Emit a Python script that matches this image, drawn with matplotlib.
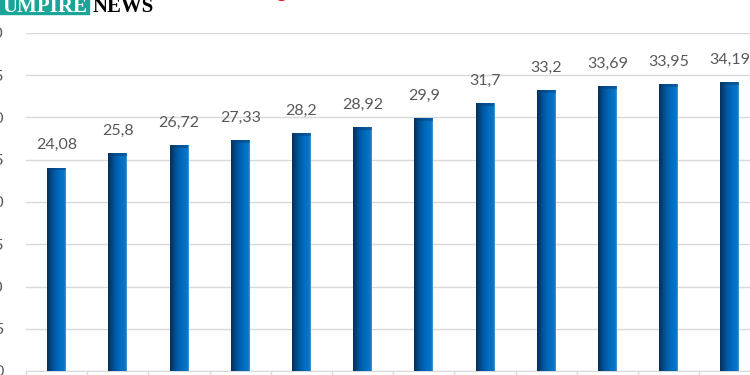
import matplotlib
matplotlib.use("Agg")
import matplotlib.pyplot as plt
import numpy as np
from matplotlib.colors import LinearSegmentedColormap
from matplotlib.patches import Rectangle

# values
values = [24.08, 25.8, 26.72, 27.33, 28.2, 28.92, 29.9, 31.7, 33.2, 33.69, 33.95, 34.19]
labels = ["24,08", "25,8", "26,72", "27,33", "28,2", "28,92", "29,9", "31,7", "33,2", "33,69", "33,95", "34,19"]
y_ticks = [0, 5, 10, 15, 20, 25, 30, 35, 40]

W, H = 750, 375
fig = plt.figure(figsize=(W / 100, H / 100), dpi=100)
# axes spill past the right edge like the cropped original
ax = fig.add_axes([26 / W, 4 / H, 12 * 61.2 / W, 338 / H])

x = np.arange(len(values))
bars = ax.bar(x, values, width=0.31, color="#0068b8", zorder=3)

# horizontal dark-to-bright gradient in every bar
cmap = LinearSegmentedColormap.from_list(
    "bar", [(0, "#062f58"), (0.35, "#0057a2"), (0.7, "#006fc2"), (0.92, "#0a74c6"), (1, "#4a9ad6")])
grad = np.linspace(0, 1, 64).reshape(1, -1)
for b in bars:
    x0, w, h = b.get_x(), b.get_width(), b.get_height()
    im = ax.imshow(grad, cmap=cmap, aspect="auto", extent=(x0, x0 + w, 0, h),
                   zorder=4, interpolation="bilinear")
    im.set_clip_path(b)
    # slightly darker cap
    ax.add_patch(Rectangle((x0, h - 0.35), w, 0.35, color="#0a3d70", alpha=0.45, zorder=5, lw=0))

for xi, v, lab in zip(x, values, labels):
    ax.text(xi, v + 1.8, lab, ha="center", va="bottom", fontsize=11.5, color="#595959",
            family="Lato", zorder=6)

ax.set_xlim(-0.5, len(values) - 0.5)
ax.set_ylim(0, 40)
ax.set_yticks(y_ticks)
ax.set_yticklabels([str(t) for t in y_ticks], fontsize=11.5, color="#595959", family="Lato")
ax.tick_params(axis="y", length=0, pad=16)
ax.set_xticks(np.arange(len(values) + 1) - 0.5)
ax.set_xticklabels([])
ax.tick_params(axis="x", length=5, color="#d9d9d9", width=1)
ax.grid(axis="y", color="#d9d9d9", lw=1, zorder=0)
for s in ["top", "right", "left"]:
    ax.spines[s].set_visible(False)
ax.spines["bottom"].set_color("#d9d9d9")

# cropped logo / title pieces at top edge
fig.patches.append(Rectangle((0, 1 - 14 / H), 89 / W, 14 / H, transform=fig.transFigure,
                             color="#1ba598", zorder=10))
fig.text(2 / W, 1 - 12 / H, "UMPIRE", color="white", fontsize=15, fontweight="bold",
         family="Liberation Serif", va="baseline", zorder=11)
fig.text(93 / W, 1 - 12 / H, "NEWS", color="black", fontsize=15, fontweight="bold",
         family="Liberation Serif", va="baseline", zorder=11)
fig.text(281 / W, 1 + 4 / H, "g", color="#d91a1a", fontsize=16, fontweight="bold",
         family="Liberation Sans", va="baseline", ha="center", zorder=11)

fig.savefig("out.png", dpi=100)
